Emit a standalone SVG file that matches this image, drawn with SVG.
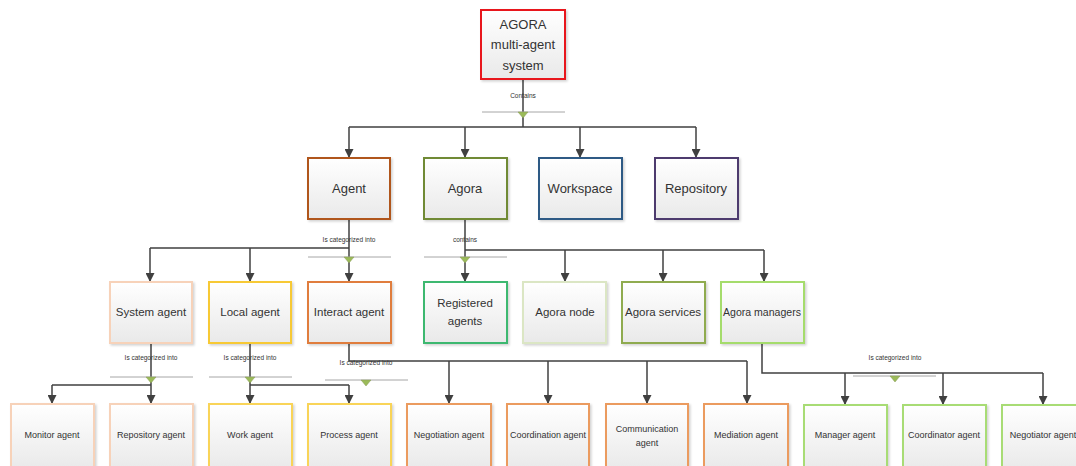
<svg xmlns="http://www.w3.org/2000/svg" width="1076" height="466" viewBox="0 0 1076 466">
<defs>
<linearGradient id="g" x1="0" y1="0" x2="0" y2="1">
<stop offset="0" stop-color="#ffffff"/>
<stop offset="1" stop-color="#e9e9e9"/>
</linearGradient>
<filter id="sh" x="-10%" y="-10%" width="130%" height="130%">
<feDropShadow dx="1.5" dy="1.5" stdDeviation="1" flood-color="#000" flood-opacity="0.18"/>
</filter>
<marker id="ar" viewBox="0 0 10 10" refX="10" refY="5" markerWidth="9" markerHeight="9" markerUnits="userSpaceOnUse" orient="auto">
<path d="M0,0 L10,5 L0,10 z" fill="#404040"/>
</marker>
</defs>
<style>
.n{fill:url(#g);stroke-width:2;filter:url(#sh)}
.t{font-family:"Liberation Sans",Arial,sans-serif;fill:#333;text-anchor:middle}
.l1{font-size:13px}
.l2{font-size:11.5px}
.l3{font-size:9px}
.lb{font-family:"Liberation Sans",Arial,sans-serif;fill:#333;text-anchor:middle;font-size:6.5px}
.c{fill:none;stroke:#404040;stroke-width:1.5}
.ca{fill:none;stroke:#404040;stroke-width:1.5;marker-end:url(#ar)}
.gl{stroke:#a6a6a6;stroke-width:1}
.tr{fill:#9bbb59;stroke:#8a9a5b;stroke-width:0.5}
</style>
<rect width="1076" height="466" fill="#fff"/>

<g id="connectors">
<path class="c" d="M523,79 V127 M349,127 H696"/>
<path class="ca" d="M349,127 V158"/>
<path class="ca" d="M465,127 V158"/>
<path class="ca" d="M580,127 V158"/>
<path class="ca" d="M696,127 V158"/>
<path class="c" d="M349,219 V248 M150,248 H349"/>
<path class="ca" d="M150,248 V282"/>
<path class="ca" d="M250,248 V282"/>
<path class="ca" d="M349,248 V282"/>
<path class="c" d="M465,219 V250 M465,250 H764"/>
<path class="ca" d="M465,250 V282"/>
<path class="ca" d="M565,250 V282"/>
<path class="ca" d="M663,250 V282"/>
<path class="ca" d="M764,250 V282"/>
<path class="c" d="M151,343 V385 M52,385 H151"/>
<path class="ca" d="M52,385 V404"/>
<path class="ca" d="M151,385 V404"/>
<path class="c" d="M250,343 V385 M250,385 H349"/>
<path class="ca" d="M250,385 V404"/>
<path class="ca" d="M349,385 V404"/>
<path class="c" d="M349,343 V361 H747"/>
<path class="ca" d="M449,361 V404"/>
<path class="ca" d="M548,361 V404"/>
<path class="ca" d="M647,361 V404"/>
<path class="ca" d="M747,361 V404"/>
<path class="c" d="M762,343 V373 H1043"/>
<path class="ca" d="M845,373 V405"/>
<path class="ca" d="M943,373 V405"/>
<path class="ca" d="M1043,373 V405"/>
<text class="lb" x="523" y="98">Contains</text>
<line class="gl" x1="482" y1="112" x2="565" y2="112"/>
<path class="tr" d="M518,112 L528,112 L523,118 z"/>
<text class="lb" x="349" y="242">Is categorized into</text>
<line class="gl" x1="308" y1="257" x2="391" y2="257"/>
<path class="tr" d="M344,257 L354,257 L349,263 z"/>
<text class="lb" x="465" y="242">contains</text>
<line class="gl" x1="424" y1="257" x2="507" y2="257"/>
<path class="tr" d="M460,257 L470,257 L465,263 z"/>
<text class="lb" x="151" y="360">Is categorized into</text>
<line class="gl" x1="110" y1="377" x2="193" y2="377"/>
<path class="tr" d="M146,377 L156,377 L151,383 z"/>
<text class="lb" x="250" y="360">Is categorized into</text>
<line class="gl" x1="209" y1="377" x2="292" y2="377"/>
<path class="tr" d="M245,377 L255,377 L250,383 z"/>
<text class="lb" x="366" y="365">Is categorized into</text>
<line class="gl" x1="325" y1="380" x2="408" y2="380"/>
<path class="tr" d="M361,380 L371,380 L366,386 z"/>
<text class="lb" x="895" y="360">Is categorized into</text>
<line class="gl" x1="853" y1="376" x2="936" y2="376"/>
<path class="tr" d="M890,376 L900,376 L895,382 z"/>
</g>

<g id="agora-mas"><rect class="n" x="481" y="10" width="84" height="69" stroke="#e8141c"/>
<text class="t l1" x="523" y="29">AGORA</text><text class="t l1" x="523" y="49">multi-agent</text><text class="t l1" x="523" y="70">system</text></g>

<g id="agent"><rect class="n" x="308" y="158" width="82" height="61" stroke="#b0571c"/><text class="t l1" x="349" y="193">Agent</text></g>
<g id="agora"><rect class="n" x="424" y="158" width="83" height="61" stroke="#6f8a35"/><text class="t l1" x="465" y="193">Agora</text></g>
<g id="workspace"><rect class="n" x="539" y="158" width="83" height="61" stroke="#2f5a85"/><text class="t l1" x="580" y="193">Workspace</text></g>
<g id="repository"><rect class="n" x="655" y="158" width="83" height="61" stroke="#4e3b6e"/><text class="t l1" x="696" y="193">Repository</text></g>

<g id="system-agent"><rect class="n" x="110" y="282" width="82" height="61" stroke="#f7d2b9"/><text class="t l2" x="151" y="316">System agent</text></g>
<g id="local-agent"><rect class="n" x="209" y="282" width="82" height="61" stroke="#f7c935"/><text class="t l2" x="250" y="316">Local agent</text></g>
<g id="interact-agent"><rect class="n" x="308" y="282" width="83" height="61" stroke="#e07d3c"/><text class="t l2" x="349" y="316">Interact agent</text></g>
<g id="registered-agents"><rect class="n" x="424" y="282" width="83" height="61" stroke="#3cb870"/><text class="t l2" x="465" y="307">Registered</text><text class="t l2" x="465" y="325">agents</text></g>
<g id="agora-node"><rect class="n" x="523" y="282" width="83" height="61" stroke="#dbe6c4"/><text class="t l2" x="565" y="316">Agora node</text></g>
<g id="agora-services"><rect class="n" x="622" y="282" width="83" height="61" stroke="#8fab4f"/><text class="t l2" x="663" y="316">Agora services</text></g>
<g id="agora-managers"><rect class="n" x="721" y="282" width="83" height="61" stroke="#a5dc6c"/><text class="t l2" x="762" y="316" textLength="78" lengthAdjust="spacingAndGlyphs">Agora managers</text></g>

<g id="monitor-agent"><rect class="n" x="11" y="404" width="83" height="66" stroke="#f7d2b9"/><text class="t l3" x="52" y="438">Monitor agent</text></g>
<g id="repository-agent"><rect class="n" x="110" y="404" width="83" height="66" stroke="#f7d2b9"/><text class="t l3" x="151" y="438">Repository agent</text></g>
<g id="work-agent"><rect class="n" x="209" y="404" width="83" height="66" stroke="#f9d458"/><text class="t l3" x="250" y="438">Work agent</text></g>
<g id="process-agent"><rect class="n" x="308" y="404" width="83" height="66" stroke="#f9d458"/><text class="t l3" x="349" y="438">Process agent</text></g>
<g id="negotiation-agent"><rect class="n" x="407" y="404" width="84" height="66" stroke="#eb9b5e"/><text class="t l3" x="449" y="438">Negotiation agent</text></g>
<g id="coordination-agent"><rect class="n" x="507" y="404" width="82" height="66" stroke="#eb9b5e"/><text class="t l3" x="548" y="438">Coordination agent</text></g>
<g id="communication-agent"><rect class="n" x="606" y="404" width="82" height="66" stroke="#eb9b5e"/><text class="t l3" x="647" y="432">Communication</text><text class="t l3" x="647" y="446">agent</text></g>
<g id="mediation-agent"><rect class="n" x="704" y="404" width="84" height="66" stroke="#eb9b5e"/><text class="t l3" x="746" y="438">Mediation agent</text></g>
<g id="manager-agent"><rect class="n" x="804" y="405" width="83" height="66" stroke="#a8dc74"/><text class="t l3" x="845" y="438">Manager agent</text></g>
<g id="coordinator-agent"><rect class="n" x="903" y="405" width="83" height="66" stroke="#a8dc74"/><text class="t l3" x="944" y="438">Coordinator agent</text></g>
<g id="negotiator-agent"><rect class="n" x="1002" y="405" width="83" height="66" stroke="#a8dc74"/><text class="t l3" x="1043" y="438">Negotiator agent</text></g>
</svg>
